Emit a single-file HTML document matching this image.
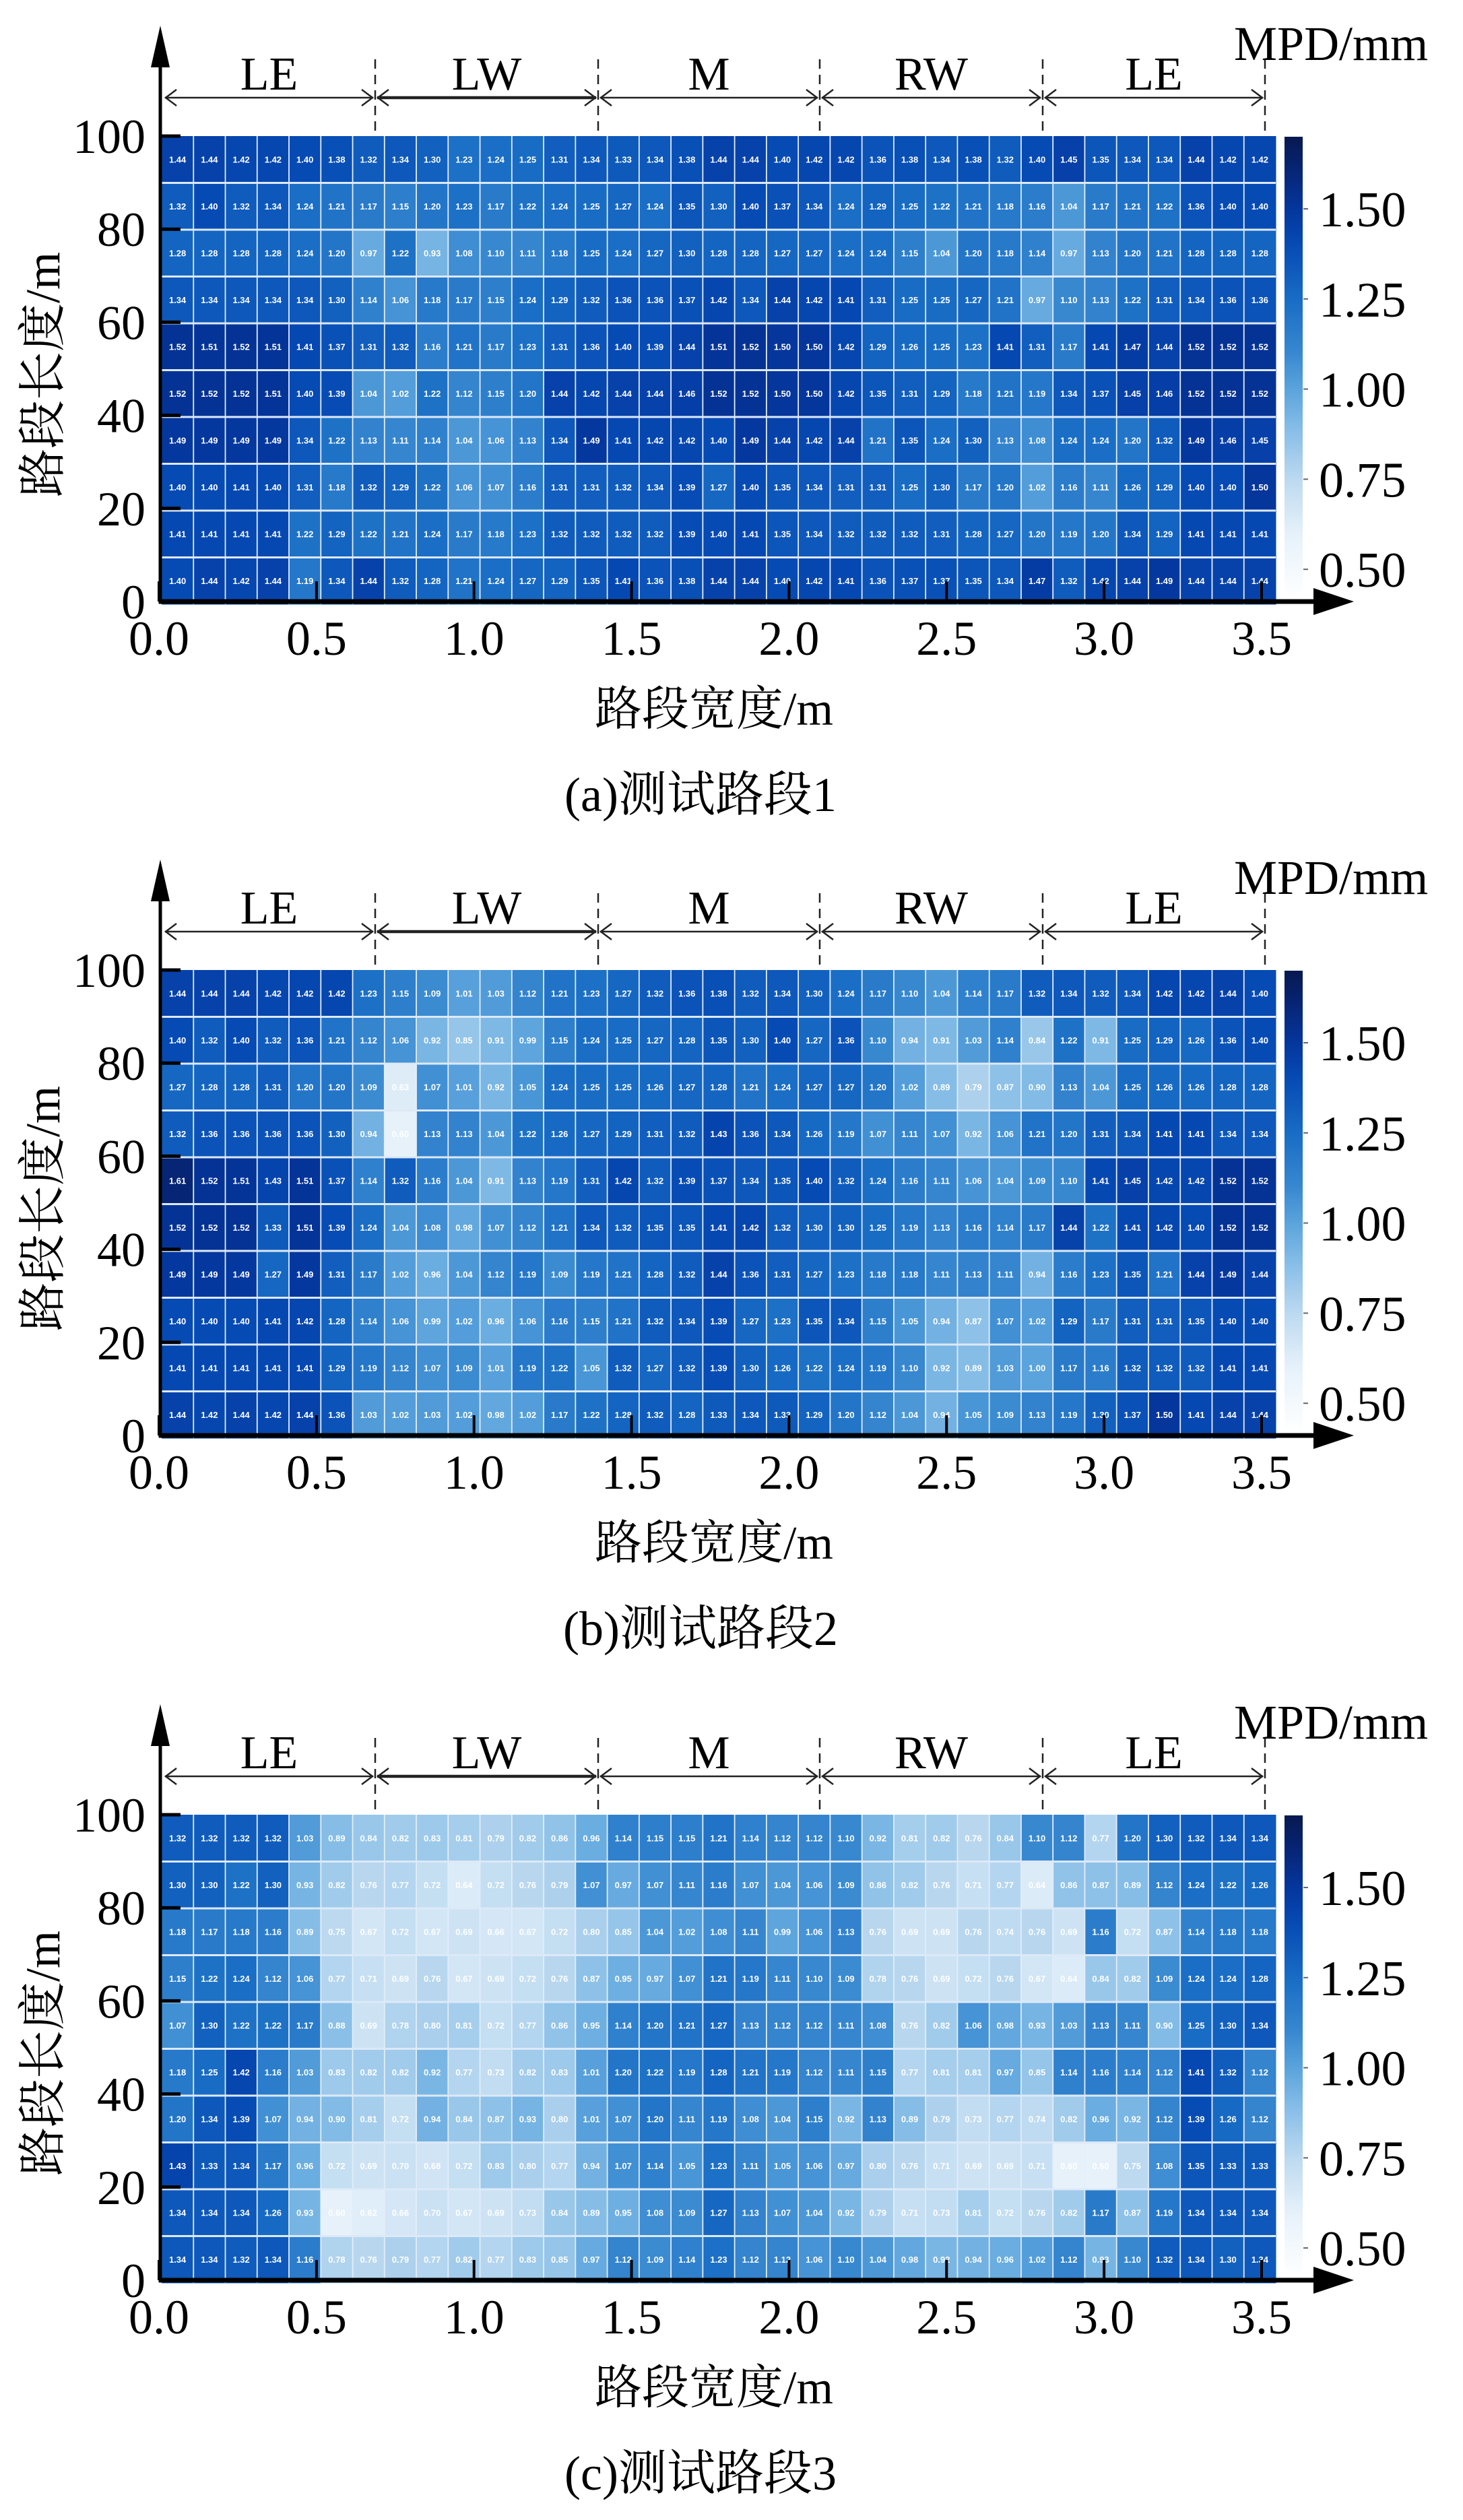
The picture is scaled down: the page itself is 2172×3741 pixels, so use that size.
<!DOCTYPE html>
<html><head><meta charset="utf-8"><title>MPD heatmaps</title>
<style>html,body{margin:0;padding:0;background:#fff}svg{display:block}</style></head>
<body>
<svg id="fig" xmlns="http://www.w3.org/2000/svg" width="2172" height="3741" viewBox="0 0 2172 3741"></svg>
<script>
// ---------- data ----------
const xTickLabels = ["0.0","0.5","1.0","1.5","2.0","2.5","3.0","3.5"];
const xTickValues = [0,0.5,1,1.5,2,2.5,3,3.5];
const yTickLabels = ["0","20","40","60","80","100"];
const yTickValues = [0,20,40,60,80,100];
const cbTickLabels = ["0.50","0.75","1.00","1.25","1.50"];
const cbTickValues = [0.5,0.75,1.0,1.25,1.5];
const regionLabels = ["LE","LW","M","RW","LE"];
const panelCaptions = ["(a)测试路段1","(b)测试路段2","(c)测试路段3"];
// rows listed top (90-100 m) to bottom (0-10 m); 35 columns of 0.1 m
const valuesA = [
[1.44,1.44,1.42,1.42,1.40,1.38,1.32,1.34,1.30,1.23,1.24,1.25,1.31,1.34,1.33,1.34,1.38,1.44,1.44,1.40,1.42,1.42,1.36,1.38,1.34,1.38,1.32,1.40,1.45,1.35,1.34,1.34,1.44,1.42,1.42],
[1.32,1.40,1.32,1.34,1.24,1.21,1.17,1.15,1.20,1.23,1.17,1.22,1.24,1.25,1.27,1.24,1.35,1.30,1.40,1.37,1.34,1.24,1.29,1.25,1.22,1.21,1.18,1.16,1.04,1.17,1.21,1.22,1.36,1.40,1.40],
[1.28,1.28,1.28,1.28,1.24,1.20,0.97,1.22,0.93,1.08,1.10,1.11,1.18,1.25,1.24,1.27,1.30,1.28,1.28,1.27,1.27,1.24,1.24,1.15,1.04,1.20,1.18,1.14,0.97,1.13,1.20,1.21,1.28,1.28,1.28],
[1.34,1.34,1.34,1.34,1.34,1.30,1.14,1.06,1.18,1.17,1.15,1.24,1.29,1.32,1.36,1.36,1.37,1.42,1.34,1.44,1.42,1.41,1.31,1.25,1.25,1.27,1.21,0.97,1.10,1.13,1.22,1.31,1.34,1.36,1.36],
[1.52,1.51,1.52,1.51,1.41,1.37,1.31,1.32,1.16,1.21,1.17,1.23,1.31,1.36,1.40,1.39,1.44,1.51,1.52,1.50,1.50,1.42,1.29,1.26,1.25,1.23,1.41,1.31,1.17,1.41,1.47,1.44,1.52,1.52,1.52],
[1.52,1.52,1.52,1.51,1.40,1.39,1.04,1.02,1.22,1.12,1.15,1.20,1.44,1.42,1.44,1.44,1.46,1.52,1.52,1.50,1.50,1.42,1.35,1.31,1.29,1.18,1.21,1.19,1.34,1.37,1.45,1.46,1.52,1.52,1.52],
[1.49,1.49,1.49,1.49,1.34,1.22,1.13,1.11,1.14,1.04,1.06,1.13,1.34,1.49,1.41,1.42,1.42,1.40,1.49,1.44,1.42,1.44,1.21,1.35,1.24,1.30,1.13,1.08,1.24,1.24,1.20,1.32,1.49,1.46,1.45],
[1.40,1.40,1.41,1.40,1.31,1.18,1.32,1.29,1.22,1.06,1.07,1.16,1.31,1.31,1.32,1.34,1.39,1.27,1.40,1.35,1.34,1.31,1.31,1.25,1.30,1.17,1.20,1.02,1.16,1.11,1.26,1.29,1.40,1.40,1.50],
[1.41,1.41,1.41,1.41,1.22,1.29,1.22,1.21,1.24,1.17,1.18,1.23,1.32,1.32,1.32,1.32,1.39,1.40,1.41,1.35,1.34,1.32,1.32,1.32,1.31,1.28,1.27,1.20,1.19,1.20,1.34,1.29,1.41,1.41,1.41],
[1.40,1.44,1.42,1.44,1.19,1.34,1.44,1.32,1.28,1.21,1.24,1.27,1.29,1.35,1.41,1.36,1.38,1.44,1.44,1.40,1.42,1.41,1.36,1.37,1.37,1.35,1.34,1.47,1.32,1.42,1.44,1.49,1.44,1.44,1.44]];
const valuesB = [
[1.44,1.44,1.44,1.42,1.42,1.42,1.23,1.15,1.09,1.01,1.03,1.12,1.21,1.23,1.27,1.32,1.36,1.38,1.32,1.34,1.30,1.24,1.17,1.10,1.04,1.14,1.17,1.32,1.34,1.32,1.34,1.42,1.42,1.44,1.40],
[1.40,1.32,1.40,1.32,1.36,1.21,1.12,1.06,0.92,0.85,0.91,0.99,1.15,1.24,1.25,1.27,1.28,1.35,1.30,1.40,1.27,1.36,1.10,0.94,0.91,1.03,1.14,0.84,1.22,0.91,1.25,1.29,1.26,1.36,1.40],
[1.27,1.28,1.28,1.31,1.20,1.20,1.09,0.63,1.07,1.01,0.92,1.05,1.24,1.25,1.25,1.26,1.27,1.28,1.21,1.24,1.27,1.27,1.20,1.02,0.89,0.79,0.87,0.90,1.13,1.04,1.25,1.26,1.26,1.28,1.28],
[1.32,1.36,1.36,1.36,1.36,1.30,0.94,0.60,1.13,1.13,1.04,1.22,1.26,1.27,1.29,1.31,1.32,1.43,1.36,1.34,1.26,1.19,1.07,1.11,1.07,0.92,1.06,1.21,1.20,1.31,1.34,1.41,1.41,1.34,1.34],
[1.61,1.52,1.51,1.43,1.51,1.37,1.14,1.32,1.16,1.04,0.91,1.13,1.19,1.31,1.42,1.32,1.39,1.37,1.34,1.35,1.40,1.32,1.24,1.16,1.11,1.06,1.04,1.09,1.10,1.41,1.45,1.42,1.42,1.52,1.52],
[1.52,1.52,1.52,1.33,1.51,1.39,1.24,1.04,1.08,0.98,1.07,1.12,1.21,1.34,1.32,1.35,1.35,1.41,1.42,1.32,1.30,1.30,1.25,1.19,1.13,1.16,1.14,1.17,1.44,1.22,1.41,1.42,1.40,1.52,1.52],
[1.49,1.49,1.49,1.27,1.49,1.31,1.17,1.02,0.96,1.04,1.12,1.19,1.09,1.19,1.21,1.28,1.32,1.44,1.36,1.31,1.27,1.23,1.18,1.18,1.11,1.13,1.11,0.94,1.16,1.23,1.35,1.21,1.44,1.49,1.44],
[1.40,1.40,1.40,1.41,1.42,1.28,1.14,1.06,0.99,1.02,0.96,1.06,1.16,1.15,1.21,1.32,1.34,1.39,1.27,1.23,1.35,1.34,1.15,1.05,0.94,0.87,1.07,1.02,1.29,1.17,1.31,1.31,1.35,1.40,1.40],
[1.41,1.41,1.41,1.41,1.41,1.29,1.19,1.12,1.07,1.09,1.01,1.19,1.22,1.05,1.32,1.27,1.32,1.39,1.30,1.26,1.22,1.24,1.19,1.10,0.92,0.89,1.03,1.00,1.17,1.16,1.32,1.32,1.32,1.41,1.41],
[1.44,1.42,1.44,1.42,1.44,1.36,1.03,1.02,1.03,1.02,0.98,1.02,1.17,1.22,1.28,1.32,1.28,1.33,1.34,1.33,1.29,1.20,1.12,1.04,0.94,1.05,1.09,1.13,1.19,1.30,1.37,1.50,1.41,1.44,1.44]];
const valuesC = [
[1.32,1.32,1.32,1.32,1.03,0.89,0.84,0.82,0.83,0.81,0.79,0.82,0.86,0.96,1.14,1.15,1.15,1.21,1.14,1.12,1.12,1.10,0.92,0.81,0.82,0.76,0.84,1.10,1.12,0.77,1.20,1.30,1.32,1.34,1.34],
[1.30,1.30,1.22,1.30,0.93,0.82,0.76,0.77,0.72,0.64,0.72,0.76,0.79,1.07,0.97,1.07,1.11,1.16,1.07,1.04,1.06,1.09,0.86,0.82,0.76,0.71,0.77,0.64,0.86,0.87,0.89,1.12,1.24,1.22,1.26],
[1.18,1.17,1.18,1.16,0.89,0.75,0.67,0.72,0.67,0.69,0.66,0.67,0.72,0.80,0.85,1.04,1.02,1.08,1.11,0.99,1.06,1.13,0.76,0.69,0.69,0.76,0.74,0.76,0.69,1.16,0.72,0.87,1.14,1.18,1.18],
[1.15,1.22,1.24,1.12,1.06,0.77,0.71,0.69,0.76,0.67,0.69,0.72,0.76,0.87,0.95,0.97,1.07,1.21,1.19,1.11,1.10,1.09,0.78,0.76,0.69,0.72,0.76,0.67,0.64,0.84,0.82,1.09,1.24,1.24,1.28],
[1.07,1.30,1.22,1.22,1.17,0.88,0.69,0.78,0.80,0.81,0.72,0.77,0.86,0.95,1.14,1.20,1.21,1.27,1.13,1.12,1.12,1.11,1.08,0.76,0.82,1.06,0.98,0.93,1.03,1.13,1.11,0.90,1.25,1.30,1.34],
[1.18,1.25,1.42,1.16,1.03,0.83,0.82,0.82,0.92,0.77,0.73,0.82,0.83,1.01,1.20,1.22,1.19,1.28,1.21,1.19,1.12,1.11,1.15,0.77,0.81,0.81,0.97,0.85,1.14,1.16,1.14,1.12,1.41,1.32,1.12],
[1.20,1.34,1.39,1.07,0.94,0.90,0.81,0.72,0.94,0.84,0.87,0.93,0.80,1.01,1.07,1.20,1.11,1.19,1.08,1.04,1.15,0.92,1.13,0.89,0.79,0.73,0.77,0.74,0.82,0.96,0.92,1.12,1.39,1.26,1.12],
[1.43,1.33,1.34,1.17,0.96,0.72,0.69,0.70,0.68,0.72,0.83,0.80,0.77,0.94,1.07,1.14,1.05,1.23,1.11,1.05,1.06,0.97,0.80,0.76,0.71,0.69,0.69,0.71,0.60,0.60,0.75,1.08,1.35,1.33,1.33],
[1.34,1.34,1.34,1.26,0.93,0.60,0.62,0.66,0.70,0.67,0.69,0.73,0.84,0.89,0.95,1.08,1.09,1.27,1.13,1.07,1.04,0.92,0.79,0.71,0.73,0.81,0.72,0.76,0.82,1.17,0.87,1.19,1.34,1.34,1.34],
[1.34,1.34,1.32,1.34,1.16,0.78,0.76,0.79,0.77,0.82,0.77,0.83,0.85,0.97,1.12,1.09,1.14,1.23,1.12,1.12,1.06,1.10,1.04,0.98,0.92,0.94,0.96,1.02,1.12,0.93,1.10,1.32,1.34,1.30,1.34]];
const panelValues = [valuesA, valuesB, valuesC];

// ---------- layout ----------
const NS = "http://www.w3.org/2000/svg";
const svg = document.getElementById('fig');
const panelOffsets = [0, 1238, 2492];
const HX0 = 240, HX1 = 1894, HY0 = 202, HY1 = 897;
const XMAX = 3.5, YMAX = 100, CMIN = 0.42, CMAX = 1.70;
const TX0 = 236, TX1 = 1873, AXY = 893;
const CBX = 1907, CBW = 27, CBY0 = 203, CBY1 = 888;
const sx = m => HX0 + m / XMAX * (HX1 - HX0);
const tx = m => TX0 + m / XMAX * (TX1 - TX0);
const sy = v => HY1 - v / YMAX * (HY1 - HY0);
const ty = v => AXY - v / YMAX * (AXY - HY0);
const cy = v => CBY1 - (v - CMIN) / (CMAX - CMIN) * (CBY1 - CBY0);
const stops = [[0.42,[255,255,255]],[0.6,[230,241,250]],[0.75,[188,217,240]],[0.9,[130,187,230]],[1.0,[90,163,220]],[1.1,[56,136,208]],[1.25,[24,108,196]],[1.4,[6,74,180]],[1.5,[5,54,156]],[1.6,[6,38,120]],[1.7,[8,24,80]]];
function color(v){
  if (v <= stops[0][0]) return 'rgb(255,255,255)';
  for (let i=1;i<stops.length;i++){
    if (v <= stops[i][0]){
      const [a,ca]=stops[i-1],[b,cb]=stops[i],t=(v-a)/(b-a);
      return 'rgb('+ca.map((c,k)=>Math.round(c+(cb[k]-c)*t)).join(',')+')';
    }
  }
  const l=stops[stops.length-1][1]; return 'rgb('+l.join(',')+')';
}
function mk(tag, attrs, parent){
  const e=document.createElementNS(NS,tag);
  for (const k in attrs) e.setAttribute(k, attrs[k]);
  (parent||svg).appendChild(e); return e;
}
const serif = '"Liberation Serif","Noto Serif CJK SC",serif';
const cjk = '"Liberation Serif","Noto Serif CJK SC","Noto Sans CJK SC",serif';

const defs = mk('defs',{});
const grad = mk('linearGradient',{id:'cbgrad',x1:'0',y1:'1',x2:'0',y2:'0'},defs);
for (let i=0;i<=32;i++){
  const v = CMIN + (CMAX-CMIN)*i/32;
  mk('stop',{offset:(i/32).toFixed(4),'stop-color':color(v)},grad);
}

const boundaries = [242,557,888,1217,1548,1878];

panelValues.forEach((vals, p) => {
  const g = mk('g',{transform:'translate(0,'+panelOffsets[p]+')'});
  
  
  const nr = vals.length, nc = vals[0].length;
  const cw = (sx(XMAX)-sx(0))/nc, rh = (sy(0)-sy(YMAX))/nr;
  const cells = mk('g',{},g);
  
  
  vals.forEach((row, r) => {
    row.forEach((v, c) => {
      const x = sx(c*XMAX/nc), y = sy(YMAX - r*YMAX/nr);
      const rect = mk('rect',{x:x.toFixed(2),y:y.toFixed(2),width:(cw+0.5).toFixed(2),height:(rh+0.5).toFixed(2),fill:color(v)},cells);
      
      
      const t = mk('text',{x:(x+cw/2).toFixed(2),y:(y+rh/2+4.5).toFixed(2),'text-anchor':'middle','font-family':'"Liberation Sans",sans-serif','font-size':'13','font-weight':'bold',fill:'#fff'},cells);
      t.textContent = v.toFixed(2);
      
      
    });
  });
  for (let c=1;c<nc;c++){ const x=sx(c*XMAX/nc); mk('line',{x1:x,y1:sy(YMAX),x2:x,y2:sy(0),stroke:'#e2eefa','stroke-width':'1.8'},g); }
  for (let r=1;r<nr;r++){ const y=sy(r*YMAX/nr); mk('line',{x1:sx(0),y1:y,x2:sx(XMAX),y2:y,stroke:'#dde9f7','stroke-width':'3'},g); }

  const ax = mk('g',{},g);
  
  
  mk('line',{x1:238,y1:95,x2:238,y2:896,stroke:'#000','stroke-width':'5'},ax);
  mk('polygon',{points:'238,38 224,100 252,100',fill:'#000'},ax);
  mk('line',{x1:236,y1:AXY,x2:1955,y2:AXY,stroke:'#000','stroke-width':'7'},ax);
  mk('polygon',{points:'2010,'+AXY+' 1950,'+(AXY-20)+' 1950,'+(AXY+20),fill:'#000'},ax);
  xTickValues.forEach((m,i)=>{
    mk('line',{x1:tx(m),y1:AXY,x2:tx(m),y2:AXY-30,stroke:'#000','stroke-width':'4'},ax);
    const t = mk('text',{x:tx(m),y:972,'text-anchor':'middle','font-family':serif,'font-size':'72',fill:'#000'},ax);
    t.textContent = xTickLabels[i];
    
    
  });
  yTickValues.forEach((v,i)=>{
    mk('line',{x1:238,y1:ty(v),x2:268,y2:ty(v),stroke:'#000','stroke-width':'5'},ax);
    const t = mk('text',{x:216,y:ty(v)+25,'text-anchor':'end','font-family':serif,'font-size':'72',fill:'#000'},ax);
    t.textContent = yTickLabels[i];
    
    
  });
  const xt = mk('text',{x:1060,y:1076,'text-anchor':'middle','font-family':cjk,'font-size':'70',fill:'#000'},g);
  xt.textContent = '路段宽度/m';
  
  
  const yt = mk('text',{x:0,y:0,'text-anchor':'middle','font-family':cjk,'font-size':'72',fill:'#000',transform:'translate(88,556) rotate(-90)'},g);
  yt.textContent = '路段长度/m';
  
  
  const cap = mk('text',{x:1040,y:1204,'text-anchor':'middle','font-family':cjk,'font-size':'72',fill:'#000'},g);
  cap.textContent = panelCaptions[p];
  
  

  const hd = mk('g',{},g);
  
  
  boundaries.forEach((x,i)=>{
    if (i>0) mk('line',{x1:x,y1:88,x2:x,y2:202,stroke:'#222','stroke-width':'2.5','stroke-dasharray':'14,9'},hd);
  });
  for (let i=0;i<5;i++){
    const a = boundaries[i], b = boundaries[i+1];
    mk('line',{x1:a+3,y1:145,x2:b-3,y2:145,stroke:'#222','stroke-width':i===1?'4.5':'2.5'},hd);
    mk('polyline',{points:(a+20)+',133 '+(a+4)+',145 '+(a+20)+',157',fill:'none',stroke:'#222','stroke-width':'2.5'},hd);
    mk('polyline',{points:(b-20)+',133 '+(b-4)+',145 '+(b-20)+',157',fill:'none',stroke:'#222','stroke-width':'2.5'},hd);
    const t = mk('text',{x:(a+b)/2,y:133,'text-anchor':'middle','font-family':serif,'font-size':'70',fill:'#000'},hd);
    t.textContent = regionLabels[i];
    
    
  }

  const cb = mk('g',{},g);
  
  
  mk('rect',{x:CBX,y:CBY0,width:CBW,height:CBY1-CBY0,fill:'url(#cbgrad)'},cb);
  cbTickValues.forEach((v,i)=>{
    mk('line',{x1:CBX+CBW+1,y1:cy(v),x2:CBX+CBW+8,y2:cy(v),stroke:'#666','stroke-width':'2'},cb);
    const t = mk('text',{x:1958,y:cy(v)+26,'font-family':serif,'font-size':'74',fill:'#000'},cb);
    t.textContent = cbTickLabels[i];
    
    
  });
  const u = mk('text',{x:1832,y:89,'font-family':serif,'font-size':'72',fill:'#000'},cb);
  u.textContent = 'MPD/mm';
  
  
});
</script>
</body></html>
